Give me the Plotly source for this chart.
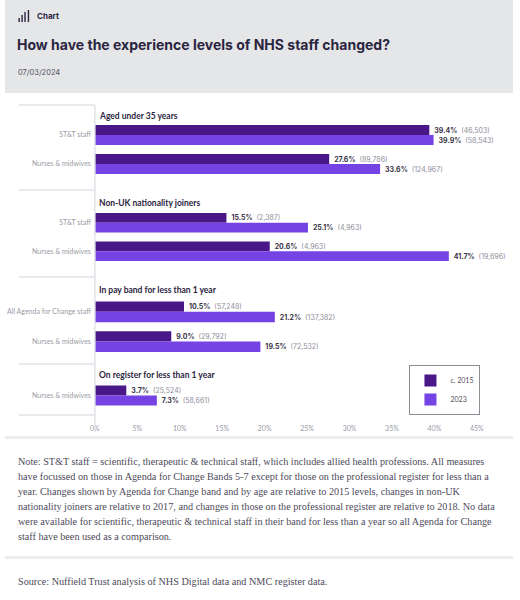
import plotly.graph_objects as go

# --- Data -------------------------------------------------------------------
GROUP_TITLES = [
    "Aged under 35 years",
    "Non-UK nationality joiners",
    "In pay band for less than 1 year",
    "On register for less than 1 year",
]
GROUP_CATEGORIES = [
    ["ST&T staff", "Nurses & midwives"],
    ["ST&T staff", "Nurses & midwives"],
    ["All Agenda for Change staff", "Nurses & midwives"],
    ["Nurses & midwives"],
]
PCT_2015 = [[39.4, 27.6], [15.5, 20.6], [10.5, 9.0], [3.7]]
COUNT_2015 = [["46,503", "89,786"], ["2,387", "4,963"], ["57,248", "29,792"], ["25,524"]]
PCT_2023 = [[39.9, 33.6], [25.1, 41.7], [21.2, 19.5], [7.3]]
COUNT_2023 = [["58,543", "124,967"], ["4,963", "19,696"], ["137,382", "72,532"], ["58,661"]]
SERIES_NAMES = ["c. 2015", "2023"]
X_TICKS = [0, 5, 10, 15, 20, 25, 30, 35, 40, 45]

NOTE_LINES = [
    "Note: ST&T staff = scientific, therapeutic & technical staff, which includes allied health professions. All measures",
    "have focussed on those in Agenda for Change Bands 5-7 except for those on the professional register for less than a",
    "year. Changes shown by Agenda for Change band and by age are relative to 2015 levels, changes in non-UK",
    "nationality joiners are relative to 2017, and changes in those on the professional register are relative to 2018. No data",
    "were available for scientific, therapeutic & technical staff in their band for less than a year so all Agenda for Change",
    "staff have been used as a comparison.",
]
SOURCE = "Source: Nuffield Trust analysis of NHS Digital data and NMC register data."

# --- Styling ----------------------------------------------------------------
W, H = 520, 600
DARK = "#4a1789"
LIGHT = "#7543e3"
INK = "#2b2540"
GREY_TXT = "#9c9aa6"
SANS = "Inter, Lato, sans-serif"
NARROW = "Lato, Inter, sans-serif"
SERIF = "Liberation Serif, serif"


def px_x(x):
    return x / W


def px_y(y):
    return 1 - y / H


# pixel layout of each group block: (domain top, domain bottom, title y)
GROUP_BOX = [(120.5, 178.5, 116), (208.5, 265.5, 203), (297, 356.5, 290), (381, 410, 375)]
SECTION_LINES = [105, 190, 277, 364, 415]

fig = go.Figure()

for g, cats in enumerate(GROUP_CATEGORIES):
    yname = "y" if g == 0 else f"y{g + 1}"
    for s, (pcts, counts, color) in enumerate(
        [(PCT_2015[g], COUNT_2015[g], DARK), (PCT_2023[g], COUNT_2023[g], LIGHT)]
    ):
        labels = [f" <b>{p:.1f}%</b>  <span style='color:#8f8c9a'>({c})</span>" for p, c in zip(pcts, counts)]
        fig.add_trace(go.Bar(
            x=pcts, y=cats, orientation="h", name=SERIES_NAMES[s],
            marker=dict(color=color, line=dict(width=0)),
            text=labels, textposition="outside", constraintext="none", cliponaxis=False,
            textfont=dict(size=7, color="#3a3548", family=SANS),
            xaxis="x", yaxis=yname, legendgroup=SERIES_NAMES[s], showlegend=(g == 0),
            hoverinfo="skip",
        ))
    top, bottom, _ = GROUP_BOX[g]
    n = len(cats)
    fig.update_layout({
        ("yaxis" if g == 0 else f"yaxis{g + 1}"): dict(
            domain=[px_y(bottom), px_y(top)], anchor="free", position=px_x(92),
            type="category", categoryorder="array", categoryarray=cats,
            range=[n - 0.5, -0.5], showgrid=False, zeroline=False, showline=False,
            ticks="", tickfont=dict(size=7, color=GREY_TXT, family=NARROW),
            ticklabelstandoff=4,
        )
    })

fig.update_layout(
    xaxis=dict(
        domain=[px_x(92), px_x(483)], range=[0, 45], anchor="free", position=px_y(423),
        tickvals=X_TICKS, ticktext=[f"{t}%" for t in X_TICKS],
        showgrid=False, zeroline=False, showline=False,
        ticks="", tickfont=dict(size=7, color=GREY_TXT, family=NARROW),
    ),
    barmode="group", bargap=0.31, bargroupgap=0,
    width=W, height=H, margin=dict(l=0, r=0, t=0, b=0),
    paper_bgcolor="white", plot_bgcolor="rgba(0,0,0,0)",
    showlegend=True,
    legend=dict(
        x=px_x(414), y=px_y(390), xanchor="left", yanchor="middle",
        bgcolor="white", bordercolor="#8d8d95", borderwidth=1,
        font=dict(size=7, color="#55525f", family=NARROW),
        itemwidth=30, tracegroupgap=0,
    ),
)

shapes = [
    # header band
    dict(type="rect", xref="paper", yref="paper", x0=0, x1=1, y0=px_y(93), y1=1,
         fillcolor="#e5e6e8", line=dict(width=0), layer="below"),
    # separators below chart and below note
    dict(type="rect", xref="paper", yref="paper", x0=0, x1=1, y0=px_y(439), y1=px_y(436),
         fillcolor="#ececef", line=dict(width=0), layer="below"),
    dict(type="rect", xref="paper", yref="paper", x0=0, x1=1, y0=px_y(559), y1=px_y(556),
         fillcolor="#ececef", line=dict(width=0), layer="below"),
    # vertical divider between labels and bars
    dict(type="line", xref="paper", yref="paper", x0=px_x(92), x1=px_x(92),
         y0=px_y(105), y1=px_y(432), line=dict(color="#e3e3e8", width=1.5)),
]
for y in SECTION_LINES:
    shapes.append(dict(type="line", xref="paper", yref="paper", x0=px_x(14), x1=px_x(92),
                       y0=px_y(y), y1=px_y(y), line=dict(color="#e3e3e8", width=1.5)))
# little bar-chart icon in the header
for x, h in [(14.5, 4), (17.5, 7), (20.5, 10), (24, 12)]:
    shapes.append(dict(type="line", xref="paper", yref="paper", x0=px_x(x), x1=px_x(x),
                       y0=px_y(22), y1=px_y(22 - h), line=dict(color=INK, width=1.4)))
fig.update_layout(shapes=shapes)

annotations = [
    dict(text="<b>Chart</b>", x=px_x(31), y=px_y(16), font=dict(size=8, color=INK, family=SANS)),
    dict(text="<b>How have the experience levels of NHS staff changed?</b>", x=px_x(10), y=px_y(45),
         font=dict(size=14, color=INK, family=SANS)),
    dict(text="07/03/2024", x=px_x(11), y=px_y(72), font=dict(size=7.5, color="#55525f", family=SANS)),
]
for g, title in enumerate(GROUP_TITLES):
    annotations.append(dict(text=f"<b>{title}</b>", x=px_x(94), y=px_y(GROUP_BOX[g][2]),
                            font=dict(size=8.5, color=INK, family=NARROW)))
for i, line in enumerate(NOTE_LINES):
    annotations.append(dict(text=line, x=px_x(11), y=px_y(461 + 15 * i),
                            font=dict(size=10.2, color="#4d4a5a", family=SERIF)))
annotations.append(dict(text=SOURCE, x=px_x(11), y=px_y(581),
                        font=dict(size=10.2, color="#4d4a5a", family=SERIF)))
for a in annotations:
    a.update(xref="paper", yref="paper", xanchor="left", yanchor="middle", showarrow=False)
fig.update_layout(annotations=annotations)

# page body has a default 8px margin; drop it so the figure fills the window
fig.write_html(
    "out.html",
    config={"displayModeBar": False},
    post_script="document.body.style.margin='0';document.body.style.overflow='hidden';",
)
